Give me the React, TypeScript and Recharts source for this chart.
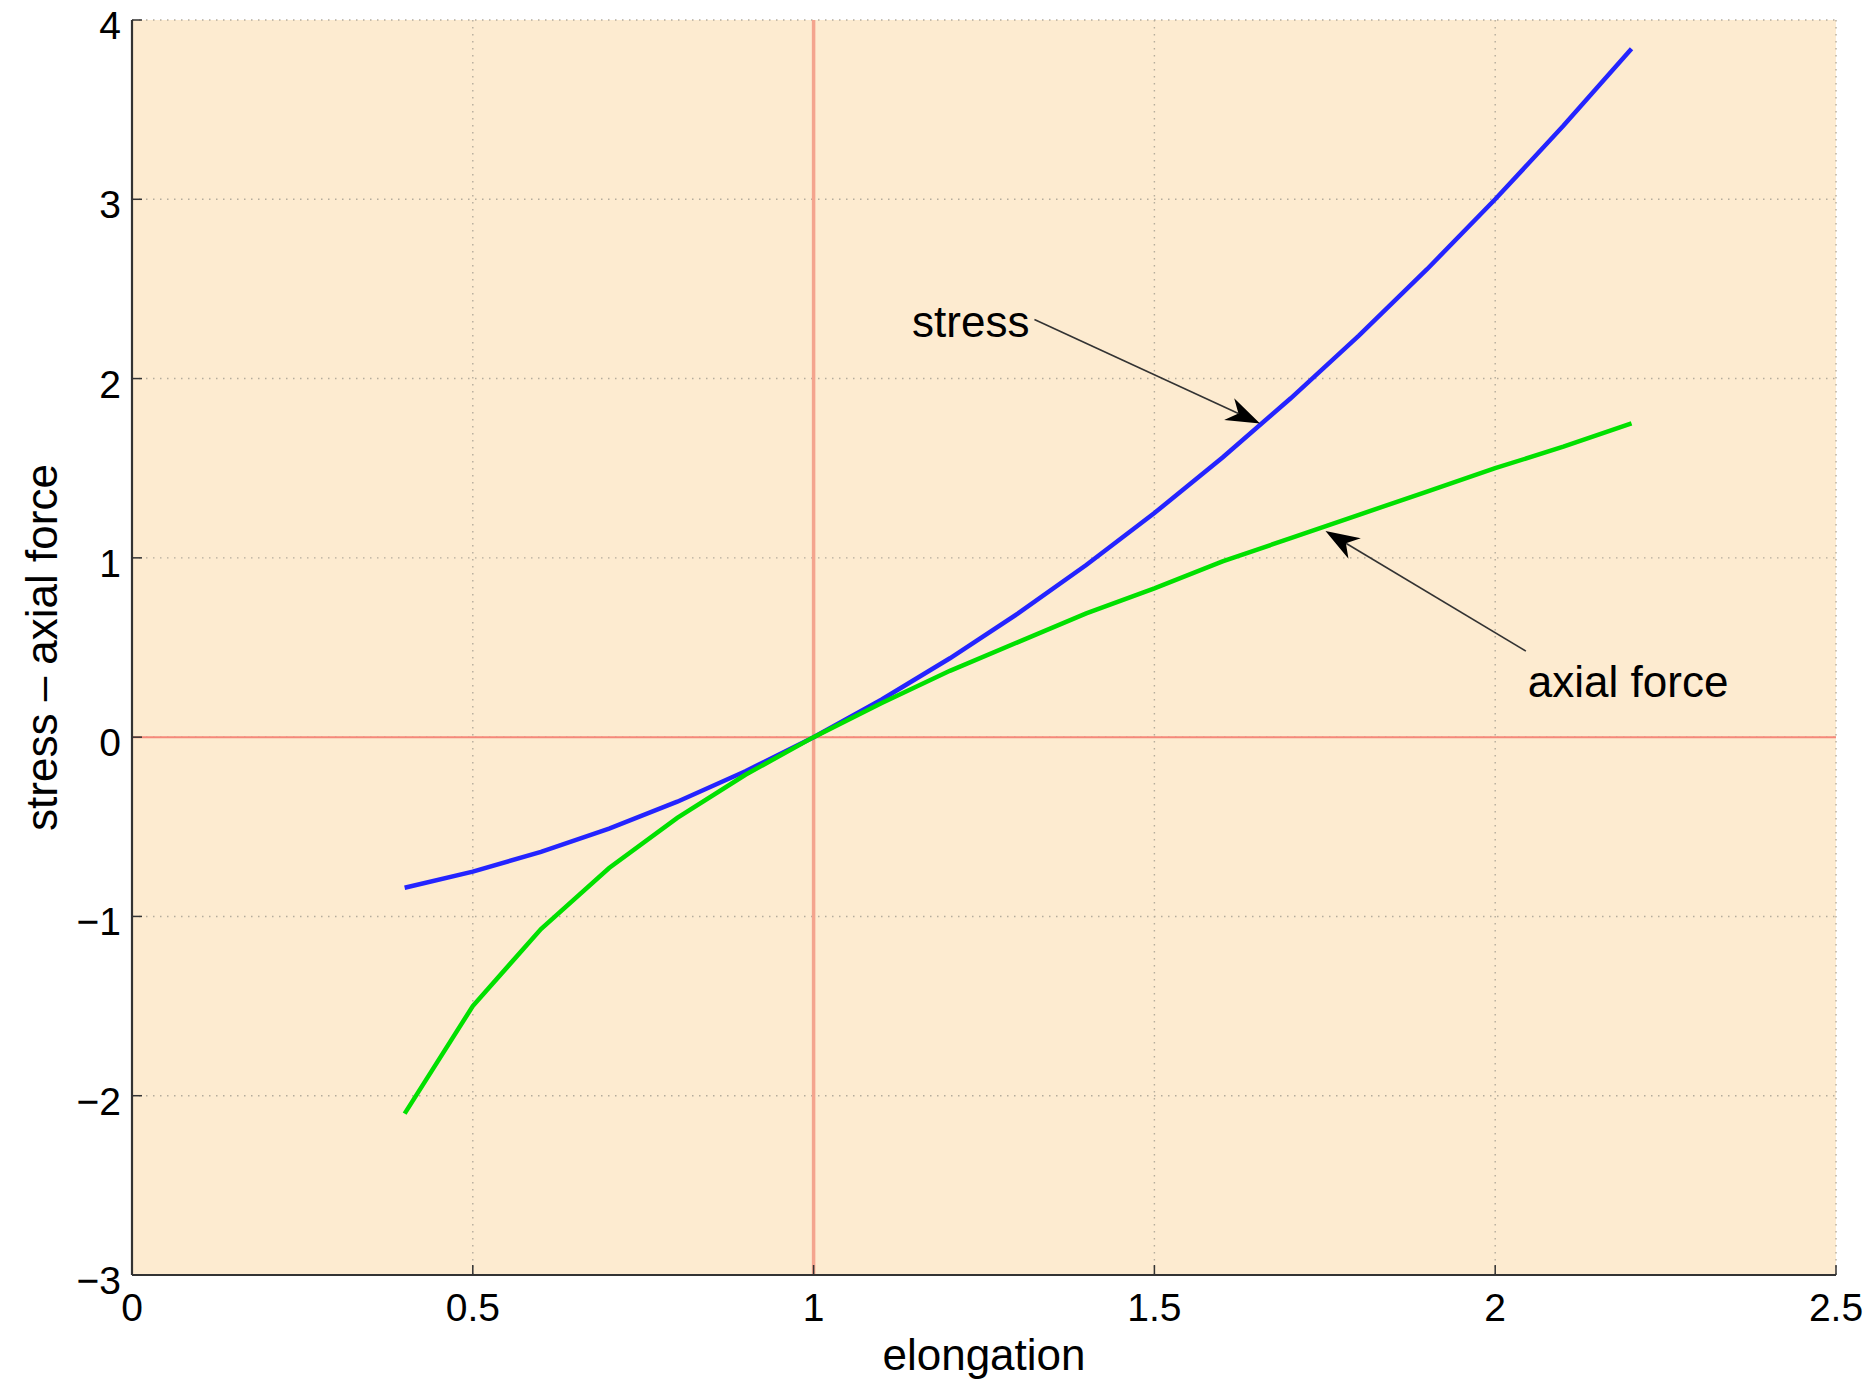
import React from 'react';
import { LineChart, Line, XAxis, YAxis, CartesianGrid, ReferenceLine } from 'recharts';

const elongation = [0.4, 0.5, 0.6, 0.7, 0.8, 0.9, 1.0, 1.1, 1.2, 1.3, 1.4, 1.5, 1.6, 1.7, 1.8, 1.9, 2.0, 2.1, 2.2];
const stress = [-0.84, -0.75, -0.64, -0.51, -0.36, -0.19, 0, 0.21, 0.44, 0.69, 0.96, 1.25, 1.56, 1.89, 2.24, 2.61, 3.0, 3.41, 3.84];
const axialForce = [-2.1, -1.5, -1.07, -0.73, -0.45, -0.21, 0, 0.19, 0.37, 0.53, 0.69, 0.83, 0.98, 1.11, 1.24, 1.37, 1.5, 1.62, 1.75];
const xTicks = [0, 0.5, 1, 1.5, 2, 2.5];
const yTicks = [-3, -2, -1, 0, 1, 2, 3, 4];

const annotationLabels = ['stress', 'axial force'];
const annotationFrom = [
  { x: 1.324, y: 2.33 },
  { x: 2.045, y: 0.48 },
];
const annotationTo = [
  { x: 1.655, y: 1.75 },
  { x: 1.751, y: 1.15 },
];

const data = elongation.map((x, i) => ({ x, stress: stress[i], axial: axialForce[i] }));

const FONT = '"Liberation Sans", Arial, Helvetica, sans-serif';
const fmt = (v: number) => (v < 0 ? '\u2212' + Math.abs(v) : String(v));

const XTick = (props: any) => {
  const { x, y, payload } = props;
  return (
    <text x={x} y={y + 46} textAnchor="middle" fontSize={39} fontFamily={FONT} fill="#000">
      {fmt(payload.value)}
    </text>
  );
};

const YTick = (props: any) => {
  const { x, y, payload } = props;
  return (
    <text x={x - 11} y={y + 19} textAnchor="end" fontSize={39} fontFamily={FONT} fill="#000">
      {fmt(payload.value)}
    </text>
  );
};

const NoTick = () => <g />;

const makeArrow = (label: string, textSide: 'left' | 'below') => (props: any) => {
  const { x1, y1, x2, y2 } = props;
  const dx = x2 - x1;
  const dy = y2 - y1;
  const len = Math.sqrt(dx * dx + dy * dy);
  const ux = dx / len;
  const uy = dy / len;
  const px = -uy;
  const py = ux;
  const L = 34;
  const W = 12;
  const back = { x: x2 - ux * L, y: y2 - uy * L };
  const notch = { x: x2 - ux * L * 0.7, y: y2 - uy * L * 0.7 };
  const pts = [
    [x2, y2],
    [back.x + px * W, back.y + py * W],
    [notch.x, notch.y],
    [back.x - px * W, back.y - py * W],
  ]
    .map((p) => p.join(','))
    .join(' ');
  const tx = textSide === 'left' ? x1 - 5 : x1 + 2;
  const ty = textSide === 'left' ? y1 + 18 : y1 + 46;
  return (
    <g>
      <line x1={x1} y1={y1} x2={notch.x} y2={notch.y} stroke="#333" strokeWidth={1.6} />
      <polygon points={pts} fill="#000" />
      <text
        x={tx}
        y={ty}
        textAnchor={textSide === 'left' ? 'end' : 'start'}
        fontSize={44}
        fontFamily={FONT}
        fill="#000"
      >
        {label}
      </text>
    </g>
  );
};

const XLabel = (props: any) => {
  const vb = props.viewBox;
  return (
    <text x={vb.x + vb.width / 2} y={vb.y + 95} textAnchor="middle" fontSize={44} fontFamily={FONT} fill="#000">
      elongation
    </text>
  );
};

const YLabel = (props: any) => {
  const vb = props.viewBox;
  const cx = 57;
  const cy = vb.y + vb.height / 2;
  return (
    <text
      x={cx}
      y={cy}
      transform={`rotate(-90, ${cx}, ${cy})`}
      textAnchor="middle"
      fontSize={44}
      fontFamily={FONT}
      fill="#000"
    >
      stress – axial force
    </text>
  );
};

export default function App() {
  return (
    <div style={{ position: 'absolute', left: 0, top: 0, width: 1872, height: 1382, background: '#fff' }}>
      <LineChart
        width={1872}
        height={1382}
        data={data}
        margin={{ top: 20, right: 36, left: 0, bottom: 0 }}
      >
        <CartesianGrid
          fill="#FDEBD0"
          fillOpacity={1}
          stroke="#b4ac9c"
          strokeWidth={1.4}
          strokeDasharray="1.5 5.5"
        />
        <XAxis
          dataKey="x"
          type="number"
          domain={[0, 2.5]}
          ticks={xTicks}
          interval={0}
          height={107}
          tickSize={-10}
          tickMargin={10}
          tick={<XTick />}
          tickLine={{ stroke: '#333', strokeWidth: 1.5 }}
          axisLine={{ stroke: '#333', strokeWidth: 2.2 }}
          label={<XLabel />}
        />
        <XAxis
          xAxisId="top"
          dataKey="x"
          type="number"
          orientation="top"
          domain={[0, 2.5]}
          ticks={xTicks}
          interval={0}
          height={0}
          tickSize={-10}
          tick={<NoTick />}
          tickLine={{ stroke: '#333', strokeWidth: 1.5 }}
          axisLine={{ stroke: '#333', strokeWidth: 2.2 }}
        />
        <YAxis
          type="number"
          domain={[-3, 4]}
          ticks={yTicks}
          interval={0}
          width={132}
          tickSize={-10}
          tickMargin={10}
          tick={<YTick />}
          tickLine={{ stroke: '#333', strokeWidth: 1.5 }}
          axisLine={{ stroke: '#333', strokeWidth: 2.2 }}
          label={<YLabel />}
        />
        <YAxis
          yAxisId="right"
          orientation="right"
          type="number"
          domain={[-3, 4]}
          ticks={yTicks}
          interval={0}
          width={0}
          tickSize={-10}
          tick={<NoTick />}
          tickLine={{ stroke: '#333', strokeWidth: 1.5 }}
          axisLine={{ stroke: '#333', strokeWidth: 2.2 }}
        />
        <ReferenceLine x={1} stroke="#F4A48E" strokeWidth={3.5} />
        <ReferenceLine y={0} stroke="#F5887A" strokeWidth={2} />
        <Line
          dataKey="stress"
          type="linear"
          stroke="#2424FF"
          strokeWidth={4.5}
          dot={false}
          isAnimationActive={false}
        />
        <Line
          dataKey="axial"
          type="linear"
          stroke="#00E000"
          strokeWidth={4.5}
          dot={false}
          isAnimationActive={false}
        />
        <ReferenceLine
          segment={[annotationFrom[0], annotationTo[0]]}
          shape={makeArrow(annotationLabels[0], 'left')}
        />
        <ReferenceLine
          segment={[annotationFrom[1], annotationTo[1]]}
          shape={makeArrow(annotationLabels[1], 'below')}
        />
      </LineChart>
    </div>
  );
}
